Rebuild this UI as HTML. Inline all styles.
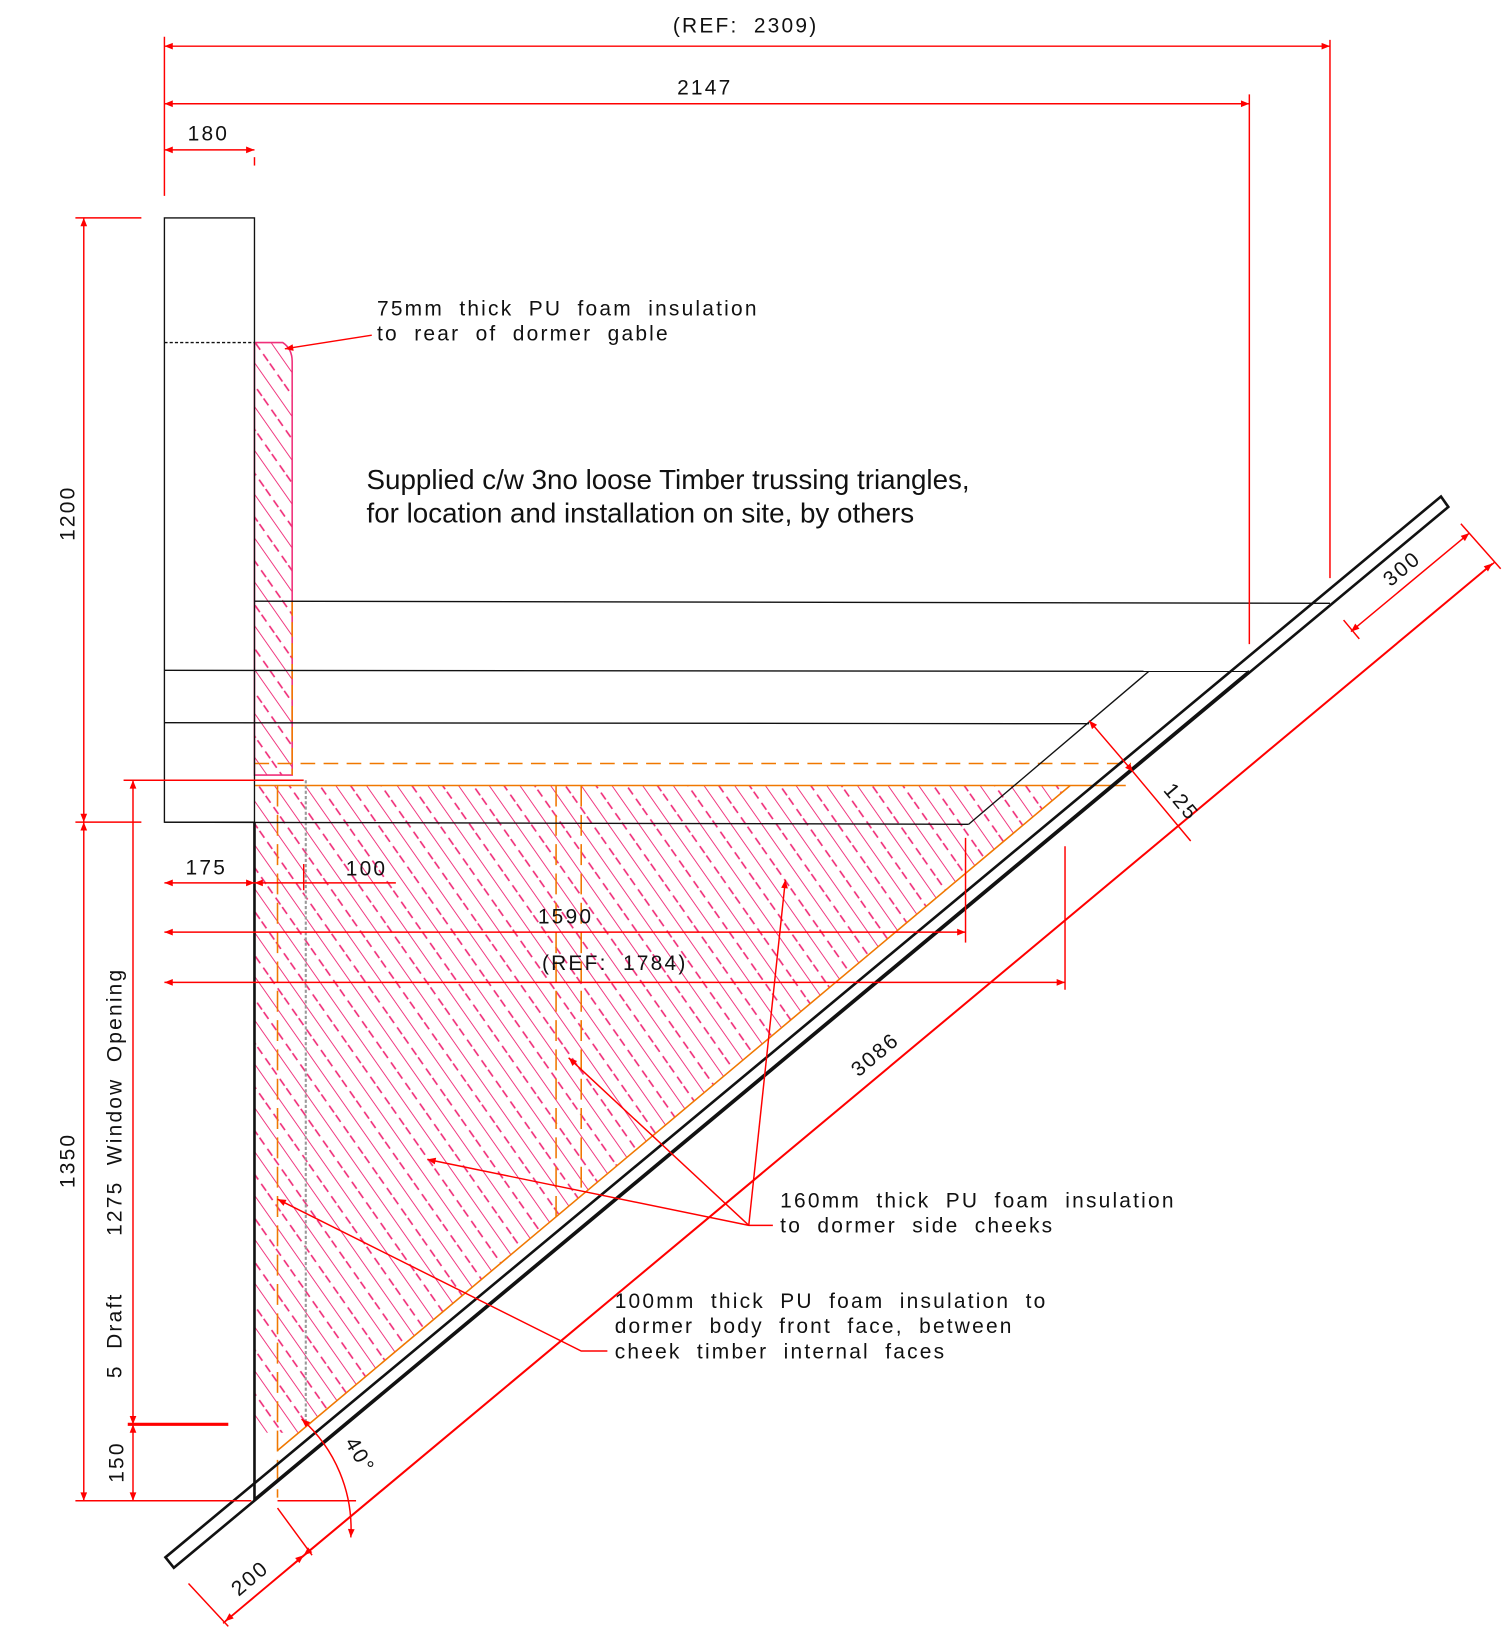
<!DOCTYPE html>
<html><head><meta charset="utf-8"><style>
html,body{margin:0;padding:0;background:#fff}
svg{display:block}
text{font-family:"Liberation Sans",sans-serif;fill:#111}
.t{font-size:20px;letter-spacing:2.1px;word-spacing:7px}
</style></head><body>
<svg width="1508" height="1637" viewBox="0 0 1440 1563" xmlns="http://www.w3.org/2000/svg">
<defs>
<pattern id="h" patternUnits="userSpaceOnUse" width="24" height="24" patternTransform="rotate(-35)">
<line x1="0" y1="0" x2="0" y2="24" stroke="#f0307a" stroke-width="1.8"/>
<line x1="12" y1="0" x2="12" y2="24" stroke="#f0307a" stroke-width="1.6" stroke-dasharray="8,5"/>
</pattern>
<marker id="a" viewBox="0 0 10 10" refX="10" refY="5" markerWidth="14" markerHeight="8" orient="auto-start-reverse" markerUnits="userSpaceOnUse"><path d="M0,1 L10,5 L0,9z" fill="#f00"/></marker>
</defs>
<rect width="1440" height="1563" fill="#fff"/>
<path d="M243,327 L270,327 Q279,333 279,345 L279,740 L243,740 Z" fill="url(#h)" stroke="#f0307a" stroke-width="1.5"/>
<path d="M243,750 L1022,750 L285,1368 L243,1368 Z" fill="url(#h)"/>
<g stroke="#f07800" fill="none" stroke-width="1.5">
<line x1="243" y1="750" x2="1075" y2="750"/>
<line x1="243" y1="729" x2="1080" y2="729" stroke-dasharray="14,8"/>
<line x1="265" y1="750" x2="265" y2="1430" stroke-dasharray="20,8"/>
<line x1="531" y1="750" x2="531" y2="1170" stroke-dasharray="20,8"/>
<line x1="555" y1="750" x2="555" y2="1140" stroke-dasharray="20,8"/>
<line x1="1022" y1="750" x2="265" y2="1385"/>
<line x1="279" y1="574" x2="279" y2="740" stroke-dasharray="14,6"/>
</g>
<line x1="292" y1="745" x2="292" y2="1360" stroke="#999" stroke-width="2" stroke-dasharray="3,2"/>
<g stroke="#111" fill="none" stroke-width="1.3">
<rect x="157" y="208" width="86" height="577"/>
<line x1="157" y1="327" x2="243" y2="327" stroke-dasharray="3,2"/>
<line x1="243" y1="574" x2="1270" y2="576"/>
<line x1="157" y1="640" x2="1193" y2="641"/>
<line x1="157" y1="690" x2="1040" y2="691"/>
<line x1="157" y1="785" x2="925" y2="787"/>
<line x1="925" y1="787" x2="1097" y2="641"/>
<line x1="243" y1="785" x2="243" y2="1433" stroke-width="2.5"/>
<path d="M158,1487 L1376,474 L1383,484 L166,1497 Z" stroke-width="2.5"/>
<line x1="243" y1="1432" x2="1193" y2="641" stroke-width="3"/>
</g>
<g stroke="#f00" fill="none" stroke-width="1.4">
<line x1="157" y1="35" x2="157" y2="187"/>
<line x1="1270" y1="38" x2="1270" y2="552"/>
<line x1="1193" y1="90" x2="1193" y2="615"/>
<line x1="157" y1="44" x2="1270" y2="44" marker-start="url(#a)" marker-end="url(#a)"/>
<line x1="157" y1="99" x2="1193" y2="99" marker-start="url(#a)" marker-end="url(#a)"/>
<line x1="157" y1="143" x2="243" y2="143" marker-start="url(#a)" marker-end="url(#a)"/>
<line x1="243" y1="150" x2="243" y2="158"/>
<line x1="72" y1="208" x2="135" y2="208"/>
<line x1="72" y1="785" x2="135" y2="785"/>
<line x1="72" y1="1433" x2="240" y2="1433"/>
<line x1="265" y1="1433" x2="340" y2="1433"/>
<line x1="80" y1="208" x2="80" y2="785" marker-start="url(#a)" marker-end="url(#a)"/>
<line x1="80" y1="785" x2="80" y2="1433" marker-start="url(#a)" marker-end="url(#a)"/>
<line x1="118" y1="745" x2="290" y2="745"/>
<line x1="127" y1="745" x2="127" y2="1360" marker-start="url(#a)" marker-end="url(#a)"/>
<line x1="127" y1="1360" x2="127" y2="1433" marker-start="url(#a)" marker-end="url(#a)"/>
<line x1="122" y1="1360" x2="218" y2="1360" stroke-width="3"/>
<line x1="157" y1="843" x2="243" y2="843" marker-start="url(#a)" marker-end="url(#a)"/>
<line x1="243" y1="843" x2="290" y2="843" marker-start="url(#a)"/>
<line x1="290" y1="843" x2="378" y2="843"/>
<line x1="290" y1="825" x2="290" y2="850"/>
<line x1="157" y1="890" x2="922" y2="890" marker-start="url(#a)" marker-end="url(#a)"/>
<line x1="922" y1="800" x2="922" y2="900"/>
<line x1="157" y1="938" x2="1017" y2="938" marker-start="url(#a)" marker-end="url(#a)"/>
<line x1="1017" y1="808" x2="1017" y2="945"/>
<line x1="213" y1="1550" x2="1427" y2="537"/>
<line x1="180" y1="1512" x2="218" y2="1553"/>
<line x1="265" y1="1440" x2="298" y2="1485"/>
<line x1="1395" y1="500" x2="1433" y2="543"/>
<line x1="215" y1="1548" x2="290" y2="1485" marker-start="url(#a)" marker-end="url(#a)"/>
<line x1="290" y1="1485" x2="1425" y2="538" marker-start="url(#a)" marker-end="url(#a)"/>
<line x1="1290" y1="603" x2="1403" y2="509" marker-start="url(#a)" marker-end="url(#a)"/>
<line x1="1283" y1="592" x2="1298" y2="610"/>
<line x1="1040" y1="688" x2="1082" y2="737" marker-start="url(#a)" marker-end="url(#a)"/>
<line x1="1082" y1="737" x2="1137" y2="803"/>
<path d="M288,1355 A140,140 0 0 1 335,1468" marker-start="url(#a)" marker-end="url(#a)"/>
<polyline points="355,320 272,333" marker-end="url(#a)"/>
<polyline points="738,1170 715,1170 408,1107" marker-end="url(#a)"/>
<line x1="715" y1="1170" x2="543" y2="1010" marker-end="url(#a)"/>
<line x1="715" y1="1170" x2="750" y2="840" marker-end="url(#a)"/>
<polyline points="580,1290 555,1290 265,1145" marker-end="url(#a)"/>
</g>
<text class="t" x="712" y="31" text-anchor="middle">(REF: 2309)</text>
<text class="t" x="673" y="90" text-anchor="middle">2147</text>
<text class="t" x="199" y="134" text-anchor="middle">180</text>
<text class="t" x="360" y="301">75mm thick PU foam insulation</text>
<text class="t" x="360" y="325">to rear of dormer gable</text>
<text x="350" y="467" style="font-size:26.5px">Supplied c/w 3no loose Timber trussing triangles,</text>
<text x="350" y="499" style="font-size:26.5px">for location and installation on site, by others</text>
<text class="t" x="197" y="835" text-anchor="middle">175</text>
<text class="t" x="350" y="836" text-anchor="middle">100</text>
<text class="t" x="540" y="882" text-anchor="middle">1590</text>
<text class="t" x="587" y="926" text-anchor="middle">(REF: 1784)</text>
<text class="t" transform="translate(71,490) rotate(-90)" text-anchor="middle">1200</text>
<text class="t" transform="translate(71,1108) rotate(-90)" text-anchor="middle">1350</text>
<text class="t" transform="translate(116,1052) rotate(-90)" text-anchor="middle">1275 Window Opening</text>
<text class="t" transform="translate(116,1275) rotate(-90)" text-anchor="middle">5 Draft</text>
<text class="t" transform="translate(118,1396) rotate(-90)" text-anchor="middle">150</text>
<text class="t" transform="translate(840,1012) rotate(-40)" text-anchor="middle">3086</text>
<text class="t" transform="translate(243,1512) rotate(-40)" text-anchor="middle">200</text>
<text class="t" transform="translate(1343,548) rotate(-40)" text-anchor="middle">300</text>
<text class="t" transform="translate(1123,770) rotate(50)" text-anchor="middle">125</text>
<text class="t" transform="translate(338,1393) rotate(60)" text-anchor="middle">40°</text>
<text class="t" x="745" y="1153">160mm thick PU foam insulation</text>
<text class="t" x="745" y="1177">to dormer side cheeks</text>
<text class="t" x="587" y="1249">100mm thick PU foam insulation to</text>
<text class="t" x="587" y="1273">dormer body front face, between</text>
<text class="t" x="587" y="1297">cheek timber internal faces</text>
</svg>
</body></html>
